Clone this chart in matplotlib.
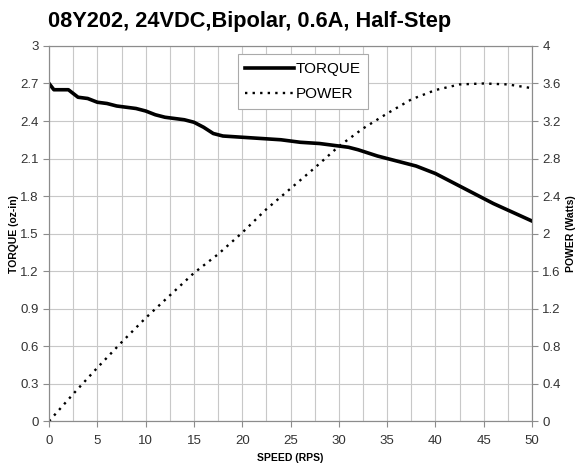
import numpy as np
import matplotlib.pyplot as plt

# torque curve
speed = [0, 0.5, 1, 2, 2.5, 3, 4, 5, 6, 7, 8, 9, 10, 11, 12, 13, 14, 15, 16, 17,
         18, 19, 20, 22, 24, 26, 28, 30, 31, 32, 34, 36, 38, 40, 42, 44, 46, 48, 50]
torque = [2.70, 2.65, 2.65, 2.65, 2.62, 2.59, 2.58, 2.55, 2.54, 2.52, 2.51, 2.50,
          2.48, 2.45, 2.43, 2.42, 2.41, 2.39, 2.35, 2.30, 2.28, 2.275, 2.27, 2.26,
          2.25, 2.23, 2.22, 2.20, 2.19, 2.17, 2.12, 2.08, 2.04, 1.98, 1.90, 1.82,
          1.74, 1.67, 1.60]

# power curve
p_speed = [0, 2.5, 5, 7.5, 10, 12.5, 15, 17.5, 20, 22.5, 25, 27.5, 30, 32.5, 35,
           37.5, 40, 42.5, 45, 47.5, 50]
power = [0, 0.29, 0.57, 0.84, 1.10, 1.34, 1.58, 1.78, 2.01, 2.26, 2.48, 2.70, 2.93,
         3.12, 3.28, 3.43, 3.53, 3.59, 3.60, 3.59, 3.55]

plt.rcParams['font.family'] = ['Liberation Sans', 'DejaVu Sans']

fig = plt.figure(figsize=(5.84, 4.69), dpi=100)
ax = fig.add_axes([0.084, 0.102, 0.827, 0.800])
ax2 = ax.twinx()

l1, = ax.plot(speed, torque, 'k-', linewidth=2.6, label='TORQUE', zorder=3)
l2, = ax2.plot(p_speed, power, color='k', linestyle=(0, (1, 2.2)), linewidth=1.7, label='POWER')

ax.set_xlim(0, 50)
ax.set_ylim(0, 3)
ax2.set_ylim(0, 4)
ax.set_xticks(np.arange(0, 51, 5))
ax.set_xticks(np.arange(0, 51, 2.5), minor=True)
ax.set_yticks(np.arange(0, 3.01, 0.3))
ax.set_yticklabels(['0', '0.3', '0.6', '0.9', '1.2', '1.5', '1.8', '2.1', '2.4', '2.7', '3'])
ax2.set_yticks(np.arange(0, 4.01, 0.4))
ax2.set_yticklabels(['0', '0.4', '0.8', '1.2', '1.6', '2', '2.4', '2.8', '3.2', '3.6', '4'])

ax.grid(True, which='both', color='#c8c8c8', linewidth=0.8)
ax.set_axisbelow(True)
for a in (ax, ax2):
    for s in a.spines.values():
        s.set_color('#8c8c8c')
    a.tick_params(colors='#8c8c8c', labelcolor='#333333', labelsize=9.5, length=4)
ax.tick_params(axis='x', which='minor', length=0)
ax.tick_params(axis='x', pad=6)

ax.set_xlabel('SPEED (RPS)', fontsize=7.5, fontweight='bold', labelpad=4)
ax.set_ylabel('TORQUE (oz-in)', fontsize=7.5, fontweight='bold', labelpad=1)
ax2.set_ylabel('POWER (Watts)', fontsize=7.5, fontweight='bold', labelpad=4)
fig.text(250 / 584, 1 - 22 / 469, '08Y202, 24VDC,Bipolar, 0.6A, Half-Step',
         fontsize=15.7, fontweight='bold', ha='center', va='center')

leg = ax.legend([l1, l2], ['TORQUE', 'POWER'], loc='upper center', bbox_to_anchor=(0.526, 0.978),
                fancybox=False, framealpha=1, edgecolor='#aaaaaa', fontsize=11,
                handlelength=3.2, handletextpad=0.1, borderpad=0.5, labelspacing=0.75,
                borderaxespad=0)
leg.get_frame().set_linewidth(0.8)

fig.savefig('out.png', dpi=100)
